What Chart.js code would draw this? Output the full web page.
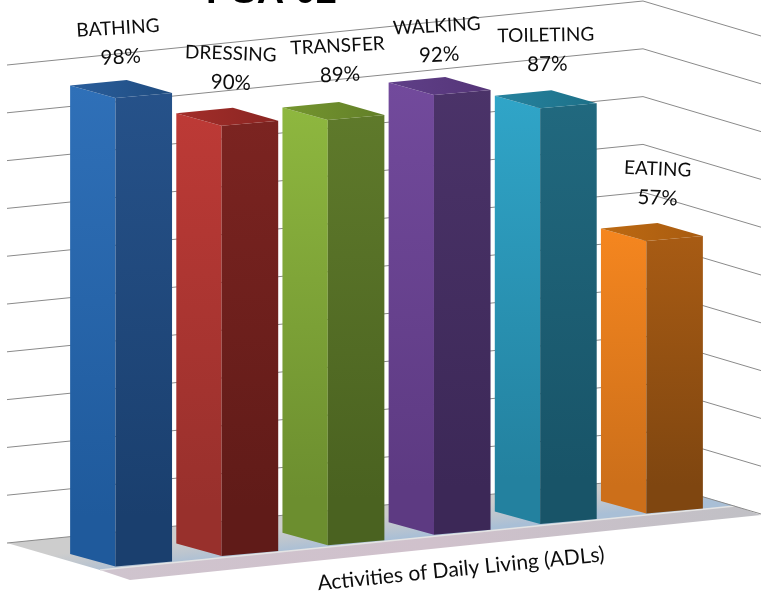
<!DOCTYPE html>
<html>
<head>
<meta charset="utf-8">
<title>PSA 02</title>
<style>
  html, body { margin: 0; padding: 0; background: #fff; }
  canvas { display: block; }
</style>
<script src="https://cdn.jsdelivr.net/npm/chart.js@4"></script>
</head>
<body>
<canvas id="adlChart" width="761" height="594"></canvas>
<script>
const chartTitle = 'PSA 02';
const axisTitle = 'Activities of Daily Living (ADLs)';
const categories = ['BATHING', 'DRESSING', 'TRANSFER', 'WALKING', 'TOILETING', 'EATING'];
const percentages = [98, 90, 89, 92, 87, 57];
const gridTicks = [0, 10, 20, 30, 40, 50, 60, 70, 80, 90, 100];

// face colours per bar: [light, dark]
const frontFaces = [['#2f70b8', '#1f5a9c'], ['#bd3a36', '#98302c'], ['#8eb73f', '#6c8e2f'], ['#724a9c', '#5d3a82'], ['#30a5c8', '#23819f'], ['#f5861f', '#cc6f1a']];
const sideFaces = [['#26528a', '#1a3f6e'], ['#7c2421', '#601b18'], ['#5f7a2b', '#4a6220'], ['#4b3369', '#3c2857'], ['#21697f', '#185468'], ['#a95c14', '#7f4610']];
const topFaces = [['#2a5e9c', '#1f4c80'], ['#a32e2a', '#8a2522'], ['#75962f', '#627f28'], ['#5f3f88', '#553578'], ['#26839f', '#1d7088'], ['#bd6a12', '#a85b10']];

// per-label hand placement: tilt in degrees, then x/y nudges
const labelTilt = [-3.5, 2, -3, -3, -1, 2.5];
const labelNudgeX = [0, 4, 7, 0, 2, 6];
const labelNudgeY = [2, 0, -2, 3, -1, 0];

function skewBase(i) {
  return 11 - 10.6 * i;
}

function faceGradient(ctx, yTop, yBottom, colors) {
  const g = ctx.createLinearGradient(0, yTop, 0, Math.max(yBottom, 508));
  g.addColorStop(0, colors[0]);
  g.addColorStop(0.92, colors[1]);
  g.addColorStop(1, colors[1]);
  return g;
}

function fillPoly(ctx, pts, fill) {
  ctx.beginPath();
  pts.forEach((p, n) => n ? ctx.lineTo(p[0], p[1]) : ctx.moveTo(p[0], p[1]));
  ctx.closePath();
  ctx.fillStyle = fill;
  ctx.fill();
}

const perspective = {
  id: 'perspective',
  // walls and floor go behind the bars
  beforeDatasetsDraw(chart) {
    const ctx = chart.ctx;
    const y = chart.scales.y;
    const y0 = y.getPixelForValue(0);
    ctx.save();

    const back = [7, y0], corner = [643, y0 - 64], right = [735, y0 - 37];
    const frontL = [100, y0 + 27], farR = [761, y0 - 28], lowL = [130, y0 + 37];

    const floor = ctx.createLinearGradient(400, y0 - 30, 403, y0 - 5);
    floor.addColorStop(0, '#cdcdcd');
    floor.addColorStop(0.55, '#bcc5cf');
    floor.addColorStop(1, '#a9bfd6');
    fillPoly(ctx, [back, corner, right, frontL], floor);

    const band = ctx.createLinearGradient(100, 0, 761, 0);
    band.addColorStop(0, '#cfc4ce');
    band.addColorStop(0.5, '#d0c1cc');
    band.addColorStop(1, '#c0c0c5');
    fillPoly(ctx, [frontL, right, farR, lowL], band);

    ctx.beginPath();
    ctx.moveTo(frontL[0], frontL[1]);
    ctx.lineTo(right[0], right[1]);
    ctx.strokeStyle = '#e4e4e4';
    ctx.lineWidth = 1.5;
    ctx.stroke();

    ctx.strokeStyle = '#8a8a8a';
    ctx.lineWidth = 1;
    gridTicks.forEach(t => {
      const py = y.getPixelForValue(t);
      ctx.beginPath();
      ctx.moveTo(7, py);
      ctx.lineTo(643, py - 64);
      ctx.lineTo(761, py - 64 + 35);
      ctx.stroke();
    });
    ctx.restore();
  },
  afterDatasetsDraw(chart) {
    const ctx = chart.ctx;
    const bars = chart.getDatasetMeta(0).data;
    ctx.save();

    bars.forEach((bar, i) => {
      const shift = skewBase(i);
      const left = bar.x - bar.width / 2;
      const right = left + bar.width;
      const mid = left + bar.width * 0.445;
      const backX = left + right - mid;
      const top = bar.y + shift;
      const bottom = bar.base + shift;

      fillPoly(ctx, [[left, top], [mid, top + 12.5], [mid, bottom + 12.5], [left, bottom]],
        faceGradient(ctx, top, bottom, frontFaces[i]));
      fillPoly(ctx, [[mid, top + 12.5], [right, top + 7.5], [right, bottom + 7.5], [mid, bottom + 12.5]],
        faceGradient(ctx, top, bottom, sideFaces[i]));
      const lid = ctx.createLinearGradient(left, 0, right, 0);
      lid.addColorStop(0, topFaces[i][0]);
      lid.addColorStop(1, topFaces[i][1]);
      fillPoly(ctx, [[left, top], [backX, top - 5.5], [right, top + 7.5], [mid, top + 12.5]], lid);

      // name and percentage float above the back corner
      ctx.save();
      ctx.translate(backX - 6 + labelNudgeX[i], top - 5.5 - 25 + labelNudgeY[i]);
      ctx.rotate(labelTilt[i] * Math.PI / 180);
      ctx.fillStyle = '#0d0d0d';
      ctx.textAlign = 'center';
      ctx.textBaseline = 'middle';
      ctx.font = '20.5px Lato, "Open Sans", sans-serif';
      ctx.fillText(percentages[i] + '%', 0, 0);
      ctx.font = '19px Lato, "Open Sans", sans-serif';
      ctx.fillText(categories[i], -1, -29);
      ctx.restore();
    });

    ctx.save();
    ctx.translate(461, 569);
    ctx.rotate(-5.8 * Math.PI / 180);
    ctx.fillStyle = '#0d0d0d';
    ctx.textAlign = 'center';
    ctx.textBaseline = 'middle';
    ctx.font = '21px Lato, "Open Sans", sans-serif';
    ctx.fillText(axisTitle, 0, 0);
    ctx.restore();

    ctx.fillStyle = '#000';
    ctx.textAlign = 'left';
    ctx.textBaseline = 'alphabetic';
    ctx.font = 'bold 38px "Liberation Sans", Arial, sans-serif';
    ctx.fillText(chartTitle, 206, 3);

    ctx.restore();
  }
};

new Chart(document.getElementById('adlChart'), {
  type: 'bar',
  data: {
    labels: categories,
    datasets: [{
      data: percentages,
      backgroundColor: 'transparent',
      barPercentage: 0.96,
      categoryPercentage: 1
    }]
  },
  options: {
    responsive: false,
    animation: false,
    layout: { padding: { left: 68, right: 56, top: 65, bottom: 51 } },
    plugins: { legend: { display: false }, tooltip: { enabled: false }, title: { display: false } },
    scales: {
      x: { display: false },
      y: { display: false, min: 0, max: 100 }
    }
  },
  plugins: [perspective]
});
</script>
</body>
</html>
